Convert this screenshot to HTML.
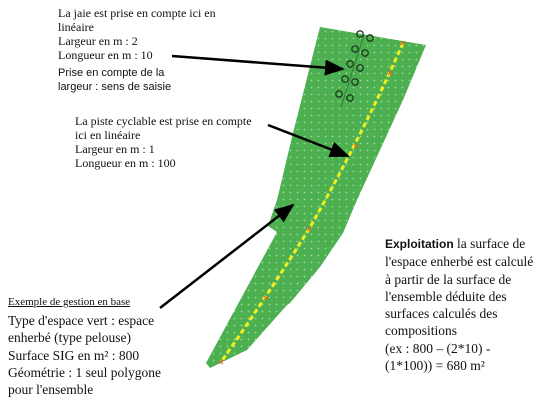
<!DOCTYPE html>
<html><head><meta charset="utf-8"><style>
body{margin:0;background:#fff;width:558px;height:408px;overflow:hidden;position:relative;font-family:"Liberation Serif",serif;color:#111}
.t{position:absolute;white-space:nowrap;line-height:14px}
.s{font-family:"Liberation Sans",sans-serif}
</style></head><body>
<svg width="558" height="408" style="position:absolute;left:0;top:0">
<defs>
<pattern id="grass" width="7" height="7" patternUnits="userSpaceOnUse"><rect width="7" height="7" fill="#4caf50"/><circle cx="3.5" cy="3.5" r="0.9" fill="#9ed89c"/></pattern>
<marker id="ah" markerWidth="20" markerHeight="16" refX="18" refY="8" orient="auto" markerUnits="userSpaceOnUse"><path d="M0,0 L20,8 L0,16z" fill="#000"/></marker>
</defs>
<polygon fill="url(#grass)" points="320,27 426,45 403,100 380,150 357,200 343,233 320,267 290,303 287,305 247,350 210,368 206,363 277,232 268,226 277,200 293,133"/>
<path d="M403,43 Q360,140 309,229 Q266,298 221,362" stroke="#f2ef1f" stroke-width="3" stroke-dasharray="5,3" fill="none"/>
<g stroke="#e06020" stroke-width="1">
<path d="M401,41l4,4M405,41l-4,4"/><path d="M388,71l4,4M392,71l-4,4"/><path d="M354,144l4,4M358,144l-4,4"/><path d="M307,227l4,4M311,227l-4,4"/><path d="M264,296l4,4M268,296l-4,4"/><path d="M219,360l4,4M223,360l-4,4"/>
</g>
<line x1="364" y1="35" x2="341" y2="107" stroke="#2e7d32" stroke-width="1"/>
<g fill="none" stroke="#1d3d1d" stroke-width="1.3">
<circle cx="360" cy="34" r="3.2"/><circle cx="370" cy="38" r="3.2"/><circle cx="355" cy="49" r="3.2"/><circle cx="365" cy="53" r="3.2"/><circle cx="350" cy="64" r="3.2"/><circle cx="360" cy="68" r="3.2"/><circle cx="345" cy="79" r="3.2"/><circle cx="355" cy="82" r="3.2"/><circle cx="339" cy="94" r="3.2"/><circle cx="350" cy="98" r="3.2"/>
</g>
<line x1="172" y1="56" x2="343" y2="69" stroke="#000" stroke-width="2.5" marker-end="url(#ah)"/>
<line x1="268" y1="125" x2="348" y2="156" stroke="#000" stroke-width="2.5" marker-end="url(#ah)"/>
<line x1="160" y1="308" x2="293" y2="205" stroke="#000" stroke-width="2.5" marker-end="url(#ah)"/>
</svg>
<div class="t" style="left:58px;top:6px;font-size:12px">La jaie est prise en compte ici en<br>linéaire<br>Largeur en m : 2<br>Longueur en m : 10</div>
<div class="t s" style="left:58px;top:66px;font-size:11px">Prise en compte de la<br>largeur : sens de saisie</div>
<div class="t" style="left:75px;top:114px;font-size:12px">La piste cyclable est prise en compte<br>ici en linéaire<br>Largeur en m : 1<br>Longueur en m : 100</div>
<div class="t" style="left:8px;top:295px;font-size:11px;text-decoration:underline">Exemple de gestion en base</div>
<div class="t" style="left:8px;top:312px;font-size:13.5px;line-height:17.3px">Type d'espace vert : espace<br>enherbé (type pelouse)<br>Surface SIG en m² : 800<br>Géométrie : 1 seul polygone<br>pour l'ensemble</div>
<div class="t" style="left:385px;top:235px;font-size:13.5px;line-height:17.3px"><b class="s" style="font-size:12px">Exploitation</b> la surface de<br>l'espace enherbé est calculé<br>à partir de la surface de<br>l'ensemble déduite des<br>surfaces calculés des<br>compositions<br>(ex : 800 – (2*10) -<br>(1*100)) = 680 m²</div>
</body></html>
